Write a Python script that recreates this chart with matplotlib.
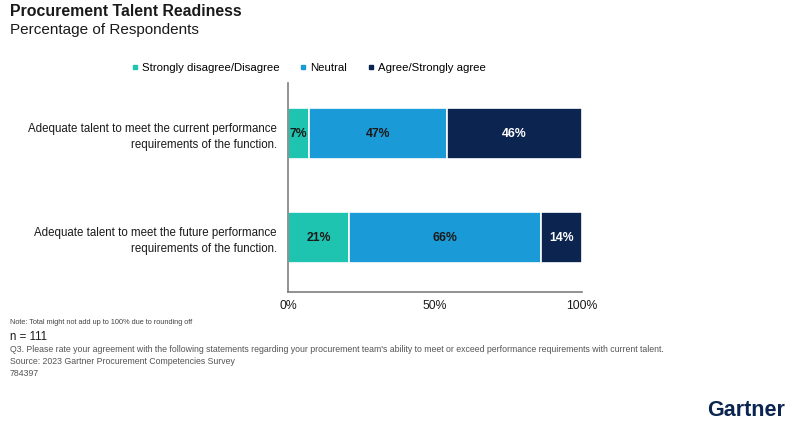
import matplotlib
matplotlib.use("Agg")
import matplotlib.pyplot as plt
from matplotlib.lines import Line2D

plt.rcParams['font.family'] = ['Liberation Sans', 'DejaVu Sans']

categories = ["Adequate talent to meet the current performance\nrequirements of the function.",
              "Adequate talent to meet the future performance\nrequirements of the function."]
series_names = ["Strongly disagree/Disagree", "Neutral", "Agree/Strongly agree"]
disagree = [7, 21]
neutral = [47, 66]
agree = [46, 14]
colors = ["#1fc4b0", "#1a9ad6", "#0b2550"]
label_colors = ["#1a1a1a", "#1a1a1a", "white"]
xticks = [0, 50, 100]
xtick_labels = ["0%", "50%", "100%"]

W, H = 800, 425
fig = plt.figure(figsize=(8, 4.25), dpi=100)
ax = fig.add_axes([288 / W, (H - 292) / H, (582 - 288) / W, (292 - 83) / H])

series = [disagree, neutral, agree]
left = [0.0] * len(categories)
total = [sum(v) for v in zip(*series)]
ys = list(range(len(categories)))
for vals, col, lc in zip(series, colors, label_colors):
    widths = [v / t * 100 for v, t in zip(vals, total)]
    ax.barh(ys, widths, left=left, height=0.49, color=col, edgecolor="white", linewidth=1.2)
    for y, l, w, v in zip(ys, left, widths, vals):
        ax.text(l + w / 2, y, f"{v}%", ha="center", va="center", fontsize=8.8,
                fontweight="bold", color=lc)
    left = [l + w for l, w in zip(left, widths)]

ax.set_xlim(0, 100)
ax.set_ylim(1.52, -0.49)
ax.set_yticks(ys)
ax.set_yticklabels(categories, fontsize=8.3, color="#1a1a1a", linespacing=1.4)
for t in ax.get_yticklabels():
    t.set_verticalalignment("center_baseline")
ax.set_xticks(xticks)
ax.set_xticklabels(xtick_labels, fontsize=8.8, color="#1a1a1a")
ax.tick_params(axis="both", length=0)
ax.tick_params(axis="y", pad=8)
ax.tick_params(axis="x", pad=6)
for s in ["top", "right"]:
    ax.spines[s].set_visible(False)
for s in ["left", "bottom"]:
    ax.spines[s].set_color("#7f7f7f")
    ax.spines[s].set_linewidth(1.2)

handles = [Line2D([0], [0], marker="s", linestyle="", markersize=3.5, color=c) for c in colors]
fig.legend(handles, series_names, loc="center", bbox_to_anchor=(308 / W, (H - 68) / H),
           ncol=3, frameon=False, fontsize=8.2, handletextpad=0.2, columnspacing=1.7,
           handlelength=0.8)

fig.text(10 / W, (H - 12) / H, "Procurement Talent Readiness", fontsize=11.4, fontweight="bold",
         va="center", color="#1a1a1a")
fig.text(10 / W, (H - 30) / H, "Percentage of Respondents", fontsize=11, va="center", color="#1a1a1a")

fig.text(10 / W, (H - 323) / H, "Note: Total might not add up to 100% due to rounding off",
         fontsize=5.3, color="#444444", va="center")
fig.text(10 / W, (H - 337) / H, "n = 111", fontsize=8.3, color="#1a1a1a", va="center")
fig.text(10 / W, (H - 350) / H,
         "Q3. Please rate your agreement with the following statements regarding your procurement team's ability to meet or exceed performance requirements with current talent.",
         fontsize=6.3, color="#555555", va="center")
fig.text(10 / W, (H - 361) / H, "Source: 2023 Gartner Procurement Competencies Survey",
         fontsize=6.3, color="#555555", va="center")
fig.text(10 / W, (H - 374) / H, "784397", fontsize=6.3, color="#555555", va="center")
fig.text(746 / W, (H - 410) / H, "Gartner", fontsize=15.5, fontweight="bold", color="#0b2550",
         ha="center", va="center")

fig.savefig("out.png", dpi=100)
